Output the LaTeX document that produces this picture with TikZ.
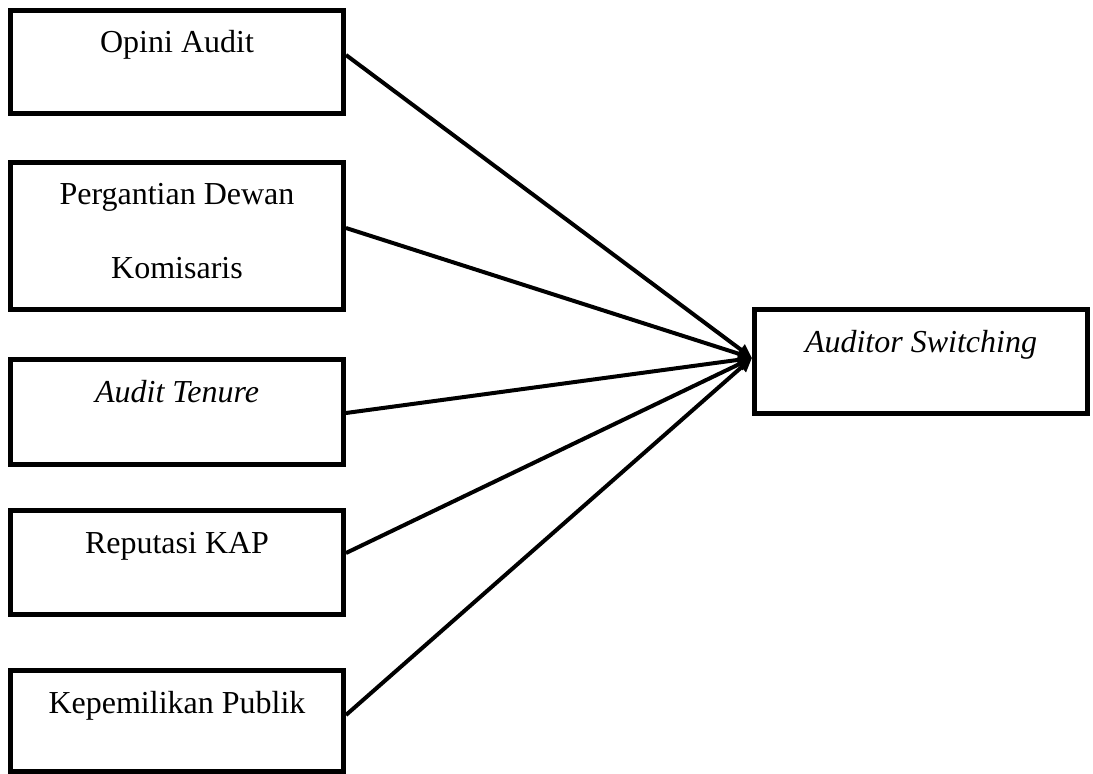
\documentclass[tikz,border=0pt]{standalone}
\usepackage{fontspec}
\setmainfont{Liberation Serif}
\usetikzlibrary{arrows.meta}
\begin{document}
\begin{tikzpicture}[x=0.75pt,y=-0.75pt,
  varbox/.style={draw=black,line width=3.75pt,rectangle,inner sep=0pt},
  lbl/.style={anchor=base,inner sep=0pt,font=\fontsize{24}{24}\selectfont},
  arr/.style={draw=black,line width=3pt,-{Triangle[length=10.5pt,width=9.5pt]}}]
\useasboundingbox (0,0) rectangle (1093,774);
% boxes
\draw[varbox] (10.5,10.5) rectangle (343.5,113.5) node[midway] (b1) {};
\draw[varbox] (10.5,162.5) rectangle (343.5,309.5) node[midway] (b2) {};
\draw[varbox] (10.5,359.5) rectangle (343.5,464.5) node[midway] (b3) {};
\draw[varbox] (10.5,510.5) rectangle (343.5,614.5) node[midway] (b4) {};
\draw[varbox] (10.5,670.5) rectangle (343.5,771.5) node[midway] (b5) {};
\draw[varbox] (754.5,309.5) rectangle (1087.5,413.5) node[midway] (t) {};
% labels
\node[lbl] (l1) at (177,53) {Opini Audit};
\node[lbl] (l2a) at (177,204) {Pergantian Dewan};
\node[lbl] (l2b) at (177,278) {Komisaris};
\node[lbl] (l3) at (177,402) {\itshape Audit Tenure};
\node[lbl] (l4) at (177,553) {Reputasi KAP};
\node[lbl] (l5) at (177,713) {Kepemilikan Publik};
\node[lbl] (lt) at (921,352) {\itshape Auditor Switching};
% connector anchors
\coordinate (tip) at (752,358);
\coordinate (s1) at (346,55);
\coordinate (s2) at (346,228);
\coordinate (s3) at (346,413);
\coordinate (s4) at (346,553);
\coordinate (s5) at (346,715);
\draw[arr] (s1) -- (tip);
\draw[arr] (s2) -- (tip);
\draw[arr] (s3) -- (tip);
\draw[arr] (s4) -- (tip);
\draw[arr] (s5) -- (tip);
\end{tikzpicture}
\end{document}
